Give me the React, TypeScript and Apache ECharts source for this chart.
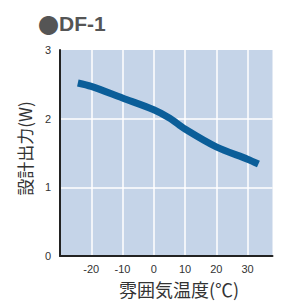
import React, { useEffect, useRef } from "react";
import * as echarts from "echarts";

const temps = [-24.3, -20, -10, 0, 5, 10, 20, 30, 33.5];
const power = [2.52, 2.47, 2.3, 2.13, 2.01, 1.85, 1.59, 1.41, 1.34];
const titleMark = "●";
const titleText = "DF-1";
const xName = "雰囲気温度(℃)";
const yName = "設計出力(W)";

const FONT = '"Liberation Sans", "Noto Sans CJK JP", sans-serif';
const CJK = '"Noto Sans CJK JP", sans-serif';

export default function App() {
  const ref = useRef<HTMLDivElement>(null);
  useEffect(() => {
    if (!ref.current) return;
    const chart = echarts.init(ref.current, null, { renderer: "svg" });
    chart.setOption({
      animation: false,
      backgroundColor: "#ffffff",
      title: {
        text: `{a|${titleMark}}{b|${titleText}}`,
        left: 33,
        top: 5,
        textStyle: {
          rich: {
            a: { fontFamily: CJK, fontSize: 21, color: "#555555", lineHeight: 27 },
            b: { fontFamily: FONT, fontSize: 21, fontWeight: "bold", color: "#555555", lineHeight: 27 },
          },
        },
      },
      graphic: [
        {
          type: "text",
          x: 179,
          y: 289,
          style: {
            text: xName,
            fontFamily: CJK,
            fontSize: 18,
            fill: "#333333",
            align: "center",
            verticalAlign: "middle",
          },
        },
        {
          type: "text",
          x: 24,
          y: 148.5,
          rotation: Math.PI / 2,
          style: {
            text: yName,
            fontFamily: CJK,
            fontSize: 17,
            fill: "#333333",
            align: "center",
            verticalAlign: "middle",
          },
        },
      ],
      grid: {
        left: 60,
        right: 10.5,
        top: 50,
        bottom: 46,
        show: true,
        backgroundColor: "#c5d4e8",
        borderWidth: 0,
      },
      xAxis: {
        type: "value",
        min: -30,
        max: 38,
        interval: 10,
        axisLine: { show: true, onZero: false, lineStyle: { color: "#222222", width: 2 } },
        axisTick: { show: false },
        axisLabel: {
          margin: 7,
          fontFamily: FONT,
          fontSize: 11,
          color: "#333333",
          formatter: (v: number) => (v > -30 && v % 10 === 0 ? String(v) : ""),
        },
        splitLine: {
          show: true,
          lineStyle: {
            color: ["#ffffff", "#ffffff", "#ffffff", "#ffffff", "#ffffff", "#ffffff", "#ffffff", "rgba(0,0,0,0)"],
            width: 1.5,
          },
        },
      },
      yAxis: {
        type: "value",
        min: 0,
        max: 3,
        interval: 1,
        axisLine: { show: true, onZero: false, lineStyle: { color: "#222222", width: 2 } },
        axisTick: { show: false },
        axisLabel: { margin: 9, fontFamily: FONT, fontSize: 11, color: "#333333" },
        splitLine: {
          show: true,
          lineStyle: {
            color: ["#ffffff", "#ffffff", "#ffffff", "rgba(0,0,0,0)"],
            width: 1.5,
          },
        },
      },
      series: [
        {
          type: "line",
          data: temps.map((t, i) => [t, power[i]]),
          smooth: 0.3,
          symbol: "none",
          lineStyle: { color: "#0b5e99", width: 7, cap: "butt" },
        },
      ],
    });
    return () => chart.dispose();
  }, []);
  return <div ref={ref} style={{ position: "fixed", left: 0, top: 0, width: 283, height: 302 }} />;
}
